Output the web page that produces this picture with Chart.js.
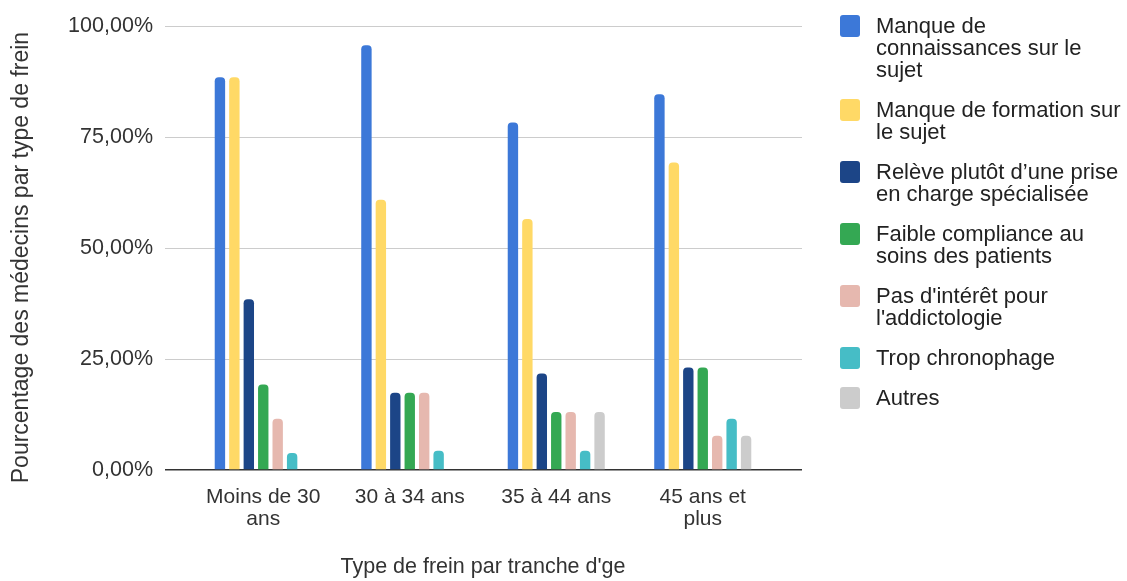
<!DOCTYPE html>
<html>
<head>
<meta charset="utf-8">
<script src="https://cdn.jsdelivr.net/npm/chart.js@4.4.1/dist/chart.umd.min.js"></script>
<style>
  html, body { margin: 0; padding: 0; background: #fff; }
  #wrap { position: relative; width: 1127px; height: 581px; }
  #legend {
    position: absolute; left: 840px; top: 15px;
    font: 22px "Liberation Sans", Arial, sans-serif;
    line-height: 22px; color: #222;
  }
  .legendItem { display: flex; align-items: flex-start; margin-bottom: 18px; }
  .legendBox { width: 20px; height: 22px; border-radius: 3px; flex: none; margin-right: 16px; }
</style>
</head>
<body>
<div id="wrap">
  <canvas id="chart" width="1127" height="581"></canvas>
  <div id="legend"></div>
</div>
<script>
const ageGroups = [['Moins de 30', 'ans'], '30 à 34 ans', '35 à 44 ans', ['45 ans et', 'plus']];

const reasons = [
  ['Manque de', 'connaissances sur le', 'sujet'],
  ['Manque de formation sur', 'le sujet'],
  ['Relève plutôt d\u2019une prise', 'en charge spécialisée'],
  ['Faible compliance au', 'soins des patients'],
  ['Pas d\'intérêt pour', 'l\'addictologie'],
  ['Trop chronophage'],
  ['Autres']
];
const reasonColors = ['#3c78d8', '#ffd966', '#1c4587', '#34a853', '#e6b8af', '#46bdc6', '#cccccc'];

// % des médecins, par tranche d'âge
const connaissances = [88.46, 95.65, 78.26, 84.62];
const formation     = [88.46, 60.87, 56.52, 69.23];
const priseEnCharge = [38.46, 17.39, 21.74, 23.08];
const compliance    = [19.23, 17.39, 13.04, 23.08];
const interet       = [11.54, 17.39, 13.04, 7.69];
const chronophage   = [3.85, 4.35, 4.35, 11.54];
const autres        = [0, 0, 13.04, 7.69];

const yTicks = [0, 25, 50, 75, 100];

const seriesValues = [connaissances, formation, priseEnCharge, compliance, interet, chronophage, autres];

const family = '"Liberation Sans", Arial, sans-serif';
const textColor = '#333';

const gridColor = (ctx) => ctx.tick && ctx.tick.value === 0 ? '#333333' : '#cccccc';
const gridWidth = (ctx) => ctx.tick && ctx.tick.value === 0 ? 1.5 : 1;

const chart = new Chart(document.getElementById('chart').getContext('2d'), {
  type: 'bar',
  data: {
    labels: ageGroups,
    datasets: seriesValues.map((values, i) => ({
      label: reasons[i].join(' '),
      data: values,
      backgroundColor: reasonColors[i],
      borderRadius: 4,
      borderSkipped: 'start',
      categoryPercentage: 0.69,
      barPercentage: 0.72
    }))
  },
  options: {
    responsive: false,
    animation: false,
    layout: { padding: { top: 26, right: 325, bottom: 0, left: 0 } },
    plugins: {
      legend: { display: false },
      tooltip: { enabled: false }
    },
    scales: {
      x: {
        grid: { display: false, drawTicks: false },
        border: { display: false },
        ticks: {
          font: { family: family, size: 21, lineHeight: 1.05 },
          color: textColor, padding: 16, maxRotation: 0, autoSkip: false
        },
        title: {
          display: true,
          text: 'Type de frein par tranche d\'ge',
          font: { family: family, size: 21.5 }, color: textColor,
          padding: { top: 0, bottom: 1 }
        },
        afterFit: (scale) => { scale.height = 111; }
      },
      y: {
        min: 0,
        max: 100,
        afterBuildTicks: (scale) => { scale.ticks = yTicks.map(v => ({ value: v })); },
        grid: { color: gridColor, lineWidth: gridWidth, tickLength: 25 },
        border: { display: false },
        ticks: {
          font: { family: family, size: 21.5 }, color: textColor, padding: 12,
          callback: (v) => v.toFixed(2).replace('.', ',') + '%'
        },
        title: {
          display: true,
          // espaces finaux : le titre est un peu décalé vers le bas dans l'original
          text: 'Pourcentage des médecins par type de frein\u00a0\u00a0\u00a0',
          font: { family: family, size: 23 }, color: textColor,
          padding: { top: 8, bottom: 0 }
        },
        afterFit: (scale) => { scale.width = 190; }
      },
      yRight: {
        position: 'right',
        min: 0,
        max: 100,
        afterBuildTicks: (scale) => { scale.ticks = yTicks.map(v => ({ value: v })); },
        grid: { color: gridColor, lineWidth: gridWidth, tickLength: 26, drawOnChartArea: false },
        border: { display: false },
        ticks: { display: false },
        afterFit: (scale) => { scale.width = 26; }
      }
    }
  }
});

// légende HTML (libellés sur plusieurs lignes)
const legendEl = document.getElementById('legend');
chart.data.datasets.forEach((ds, i) => {
  const item = document.createElement('div');
  item.className = 'legendItem';
  const box = document.createElement('div');
  box.className = 'legendBox';
  box.style.background = ds.backgroundColor;
  const text = document.createElement('div');
  text.innerHTML = reasons[i].join('<br>');
  item.appendChild(box);
  item.appendChild(text);
  legendEl.appendChild(item);
});
</script>
</body>
</html>
